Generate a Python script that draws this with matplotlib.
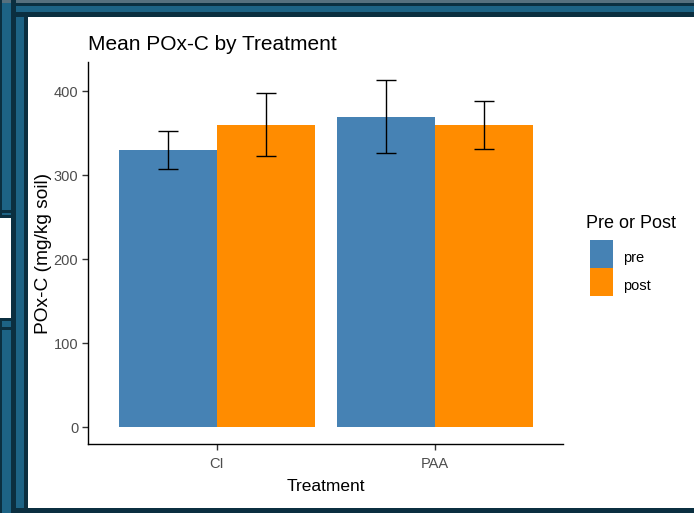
import matplotlib
matplotlib.use("Agg")
import matplotlib.pyplot as plt
from matplotlib.patches import Rectangle

plt.rcParams["font.family"] = ["Liberation Sans", "DejaVu Sans"]

# Data
treatments = ["CI", "PAA"]
phases = ["pre", "post"]
mean_pre = [330, 370]
mean_post = [360, 360]
err_pre = [22.5, 43.5]
err_post = [37.5, 29.0]
y_ticks = [0, 100, 200, 300, 400]

colors = {"pre": "#4682B4", "post": "#FF8C00"}

W, H = 694, 513
fig = plt.figure(figsize=(W / 100, H / 100), dpi=100)
fig.patch.set_facecolor("white")


def box(x0, y0, x1, y1, color, z=0):
    """Rectangle given in pixel coords with the origin at the top-left."""
    fig.add_artist(Rectangle((x0 / W, 1 - y1 / H), (x1 - x0) / W, (y1 - y0) / H,
                             transform=fig.transFigure, facecolor=color,
                             edgecolor="none", zorder=z))


BLUE = "#1d6385"
DARK = "#0b2f40"

# Window frame decoration
box(0, 0, W, H, BLUE, -10)
# top band stripes
box(0, 0, W, 3, "#56707e", -9)
box(14, 3, W, 6, DARK, -9)
box(14, 12, W, 17, DARK, -9)
# left stripes
box(0, 0, 2, H, DARK, -9)
box(11, 0, 16, H, DARK, -9)
box(24, 12, 28, H, DARK, -9)
# partially hidden window on the far left
box(0, 218, 11, 318, "white", -8)
box(0, 210, 12, 213, DARK, -8)
box(0, 215, 12, 218, DARK, -8)
box(0, 318, 12, 321, DARK, -8)
box(0, 327, 12, 330, DARK, -8)
# bottom edge
box(14, 508, W, H, DARK, -9)
# main white panel
box(28, 17, W, 508, "white", -7)

# Plot area
ax = fig.add_axes([88 / W, 1 - 444 / H, (563 - 88) / W, (444 - 62) / H])
ax.set_facecolor("none")

bw = 0.45
xs = [1, 2]
x_pre = [x - bw / 2 for x in xs]
x_post = [x + bw / 2 for x in xs]
ax.bar(x_pre, mean_pre, width=bw, color=colors["pre"], zorder=2)
ax.bar(x_post, mean_post, width=bw, color=colors["post"], zorder=2)
ax.errorbar(x_pre, mean_pre, yerr=err_pre, fmt="none", ecolor="black",
            elinewidth=1.0, capsize=7.5, capthick=1.0, zorder=3)
ax.errorbar(x_post, mean_post, yerr=err_post, fmt="none", ecolor="black",
            elinewidth=1.0, capsize=7.5, capthick=1.0, zorder=3)

ax.set_xlim(0.408, 2.587)
ax.set_ylim(-19.8, 435)
ax.set_xticks(xs)
ax.set_xticklabels(treatments)
ax.set_yticks(y_ticks)

for s in ["top", "right"]:
    ax.spines[s].set_visible(False)
for s in ["left", "bottom"]:
    ax.spines[s].set_color("black")
    ax.spines[s].set_linewidth(1.0)
ax.tick_params(axis="both", direction="out", length=4, width=1.0,
               color="#333333", labelcolor="#4d4d4d", labelsize=10.5)
ax.tick_params(axis="x", pad=5)
ax.tick_params(axis="y", pad=3)

ax.set_xlabel("Treatment", fontsize=12.5, color="black", labelpad=6)
ax.set_ylabel("POx-C (mg/kg soil)", fontsize=13.8, color="black", labelpad=1.5)

fig.text(88 / W, 1 - 45 / H, "Mean POx-C by Treatment", fontsize=15,
         color="black", ha="left", va="center")

# Legend
fig.text(586 / W, 1 - 224 / H, "Pre or Post", fontsize=13, color="black",
         ha="left", va="center")
key_top = 240
for i, ph in enumerate(phases):
    y0 = key_top + i * 28
    box(590, y0, 613, y0 + 28, colors[ph], 5)
    fig.text(623 / W, 1 - (y0 + 18) / H, ph, fontsize=10.5, color="black",
             ha="left", va="center")

fig.savefig("out.png", dpi=100)
